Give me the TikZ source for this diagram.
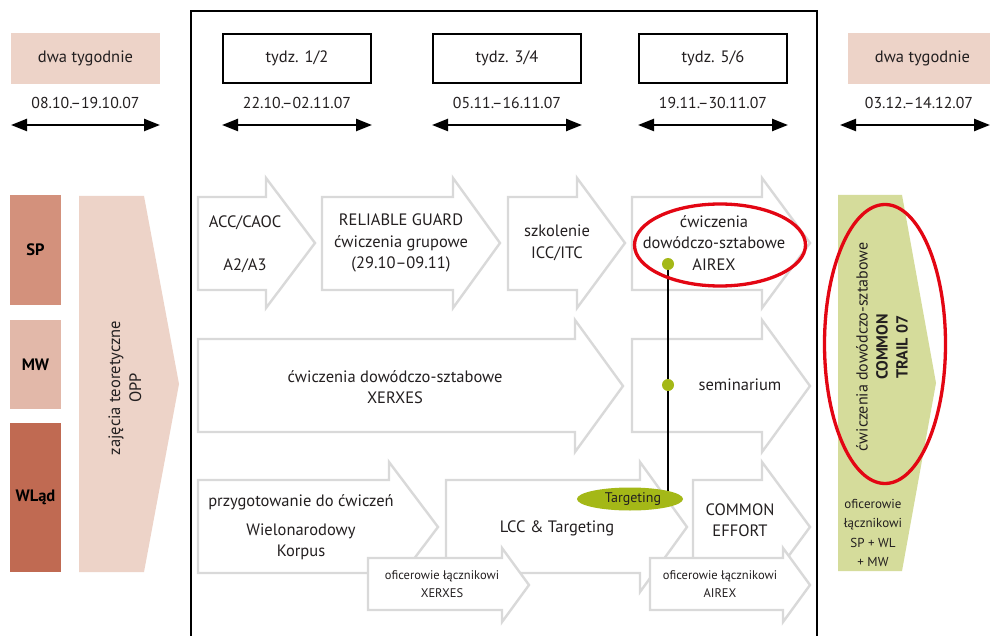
\documentclass[tikz,border=0pt]{standalone}
\usepackage{fontspec}
\setmainfont{PT Sans}
\usetikzlibrary{arrows.meta,shapes.geometric}
\pgfdeclarelayer{front}
\pgfsetlayers{main,front}

\definecolor{ink}{HTML}{231F20}
\definecolor{pinkbg}{HTML}{EDD3C8}
\definecolor{spcol}{HTML}{D3917C}
\definecolor{mwcol}{HTML}{E2B8A9}
\definecolor{wlcol}{HTML}{C06A52}
\definecolor{greenbg}{HTML}{D5DC9B}
\definecolor{olive}{HTML}{A4B817}
\definecolor{ringred}{HTML}{E30613}
\definecolor{arrowgray}{HTML}{D9D9D9}

\tikzset{
  x=1pt, y=-1pt,
  blk/.style={draw=arrowgray, line width=2.4, fill=white, line join=miter},
  txt/.style={font=\fontsize{16.5}{21.5}\selectfont, align=center, text=ink, inner sep=0},
  smalltxt/.style={font=\fontsize{12.5}{18}\selectfont, align=center, text=ink, inner sep=0},
  datetxt/.style={font=\fontsize{15.8}{17}\selectfont, text=ink, inner sep=0},
  weekbox/.style={draw=black, line width=2.6, minimum width=148, minimum height=49,
    font=\fontsize{16.5}{18}\selectfont, text=ink, inner sep=0},
  pinkbox/.style={fill=pinkbg, minimum width=149, minimum height=51,
    font=\fontsize{16.5}{18}\selectfont, text=ink, inner sep=0},
  corpsbox/.style={minimum width=51, font=\fontsize{16.5}{18}\selectfont\bfseries, text=black, inner sep=0},
  span/.style={line width=2.4, {Triangle[length=16, width=12]}-{Triangle[length=16, width=12]}},
  dot/.style={circle, fill=olive, minimum size=12, inner sep=0},
  ring/.style={ellipse, draw=ringred, line width=3.3, inner sep=0},
}

% block arrow: x0, body top, body bottom, head x, head top, head bottom, tip x
\newcommand\blockarrow[7]{%
  \draw[blk] (#1,#2) -- (#4,#2) -- (#4,#5) -- ({#7},{(#5+#6)/2}) -- (#4,#6)
    -- (#4,#3) -- (#1,#3) -- cycle;}

\begin{document}
\begin{tikzpicture}
\useasboundingbox (0,0) rectangle (990,636);
\fill[white] (0,0) rectangle (990,636);

% three-week frame
\draw[line width=2] (191,640) -- (191,11) -- (817,11) -- (817,640);

% period headers
\node[pinkbox] (hl) at (85.5,58.5) {dwa tygodnie};
\node[pinkbox] (hr) at (922.5,58.5) {dwa tygodnie};
\node[weekbox] (w1) at (297,58.5) {tydz. 1/2};
\node[weekbox] (w2) at (507,58.5) {tydz. 3/4};
\node[weekbox] (w3) at (713,58.5) {tydz. 5/6};

% dates and spans
\node[datetxt] (t0) at (85.5,103) {08.10.–19.10.07};
\node[datetxt] (t1) at (297,103) {22.10.–02.11.07};
\node[datetxt] (t2) at (507,103) {05.11.–16.11.07};
\node[datetxt] (t3) at (713,103) {19.11.–30.11.07};
\node[datetxt] (t4) at (919,103) {03.12.–14.12.07};
\foreach \n/\a/\b in {0/11/160, 1/222/372, 2/432/582, 3/638/788, 4/840/990}{
  \coordinate (sl\n) at (\a,125);
  \coordinate (sr\n) at (\b,125);
  \draw[span] (sl\n) -- (sr\n);
}

% services on the left
\node[corpsbox, fill=spcol, minimum height=110] (sp) at (35.5,250) {SP};
\node[corpsbox, fill=mwcol, minimum height=89] (mw) at (35.5,364.5) {MW};
\node[corpsbox, fill=wlcol, minimum height=149] (wl) at (35.5,497.5) {WLąd};

% theory block
\fill[pinkbg] (79,196) -- (144,196) -- (179,384) -- (144,572) -- (79,572) -- cycle;
\node[txt, rotate=90, font=\fontsize{16.5}{21}\selectfont] (opp) at (125,388) {zajęcia teoretyczne\\OPP};

% final exercise block
\fill[greenbg] (838,195) -- (902,195) -- (936,383) -- (902,571) -- (838,571) -- cycle;
\node[txt, rotate=90, font=\fontsize{16}{20}\selectfont] (ct) at (882,347)
  {ćwiczenia dowódczo-sztabowe\\\textbf{COMMON}\\\textbf{TRAIL 07}};
\node[smalltxt, font=\fontsize{13}{19.5}\selectfont] (lo) at (873,533)
  {oficerowie\\łącznikowi\\SP + WL\\+ MW};

% row 1
\blockarrow{198}{197}{290}{266}{178}{308}{315}
\blockarrow{322}{197}{290}{453}{178}{308}{500}
\blockarrow{508}{197}{290}{577}{178}{308}{625}
\blockarrow{632}{197}{290}{762}{178}{308}{810}
\node[txt] (acc) at (245,223) {ACC/CAOC};
\node[txt] (a23) at (245,266) {A2/A3};
\node[txt] (rg) at (401,243) {RELIABLE GUARD\\ćwiczenia grupowe\\(29.10–09.11)};
\node[txt] (icc) at (557,243) {szkolenie\\ICC/ITC};
\node[txt] (airex) at (714,243) {ćwiczenia\\dowódczo-sztabowe\\AIREX};

% row 2
\blockarrow{198}{339}{432}{575}{320}{452}{623}
\blockarrow{632}{339}{432}{762}{320}{452}{810}
\node[txt] (xer) at (395,387) {ćwiczenia dowódczo-sztabowe\\XERXES};
\node[txt] (sem) at (740,385) {seminarium};

% row 3
\blockarrow{198}{480}{573}{389}{462}{592}{438}
\blockarrow{446}{480}{573}{640}{462}{592}{687}
\blockarrow{693}{480}{573}{762}{462}{592}{810}
\node[txt] (prz) at (301,502) {przygotowanie do ćwiczeń};
\node[txt] (wnk) at (301,542) {Wielonarodowy\\Korpus};
\node[txt] (lcc) at (557,528) {LCC \& Targeting};
\node[txt] (ce) at (740,520) {COMMON\\EFFORT};

% liaison officers
\blockarrow{368}{558}{610}{502}{548}{622}{529}
\blockarrow{650}{558}{610}{783}{548}{622}{810}
\node[smalltxt] (lx) at (442,584) {oficerowie łącznikowi\\XERXES};
\node[smalltxt] (la) at (720,584) {oficerowie łącznikowi\\AIREX};

% markers and highlights
\begin{pgfonlayer}{front}
  \node[dot] (d1) at (668,264) {};
  \node[dot] (d2) at (668,385) {};
  \node[ellipse, fill=olive, minimum width=106, minimum height=23, inner sep=0,
    font=\fontsize{14}{15}\selectfont, text=ink] (tgt) at (630,499) {\hspace*{6pt}Targeting};
  \node[ring, minimum width=171, minimum height=82] (r1) at (720,245) {};
  \node[ring, minimum width=121, minimum height=279] (r2) at (885,344) {};
\end{pgfonlayer}
\draw[line width=2] (d1.center) -- (d1.center |- tgt.north east);

\end{tikzpicture}
\end{document}
